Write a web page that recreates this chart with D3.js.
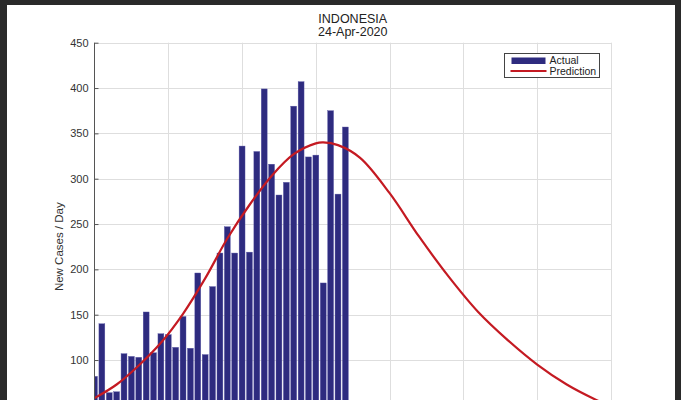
<!DOCTYPE html>
<html>
<head>
<meta charset="utf-8">
<script src="https://cdn.jsdelivr.net/npm/d3@7"></script>
<style>
  html, body { margin: 0; padding: 0; background: #2a2a2a; }
  svg { display: block; }
</style>
</head>
<body>
<script>
// ---- data ----
const titleLines = ["INDONESIA", "24-Apr-2020"];
const yLabel = "New Cases / Day";
const legendLabels = ["Actual", "Prediction"];
const days = [0,1,2,3,4,5,6,7,8,9,10,11,12,13,14,15,16,17,18,19,20,21,22,23,24,25,26,27,28,29,30,31,32,33,34];
const actual = [82,140,64,65,107,104,103,153,108,129,128,114,148,113,196,106,181,218,247,218,336,219,330,399,316,282,296,380,407,324,326,185,375,283,357];
const predDays = [0,3,6,9,12,15,18,21,24,27,30,31,33,36,40,44,48,52,56,60,64,68,70];
const predVals = [58,73,94,119,151,190,234,271,303,327,339,340,337,323,284,236,192,153,122,95,73,56,49];
const yTicks = [50,100,150,200,250,300,350,400,450];
const xGrid = [10,20,30,40,50,60,70];

(function () {
// ---- layout ----
const W = 681, H = 400;
const pL = 94.5, pR = 611, pT = 42.7, pB = 450.7;
const font = "'Liberation Sans', Arial, sans-serif";

const svg = d3.select("body").append("svg").attr("width", W).attr("height", H);

// photo frame
svg.append("rect").attr("x", 0).attr("y", 0).attr("width", W).attr("height", H).attr("fill", "#2a2a2a");
svg.append("rect").attr("x", 7).attr("y", 5).attr("width", 668).attr("height", H).attr("fill", "#ffffff");

const x = d3.scaleLinear().domain([0, 70]).range([pL, pR]);
const y = d3.scaleLinear().domain([0, 450]).range([pB, pT]);

// grid
const grid = svg.append("g").attr("stroke", "#dedede").attr("stroke-width", 1);
grid.selectAll("line.h").data(yTicks).join("line").attr("class", "h")
  .attr("x1", pL).attr("x2", pR)
  .attr("y1", d => Math.round(y(d)) + 0.5).attr("y2", d => Math.round(y(d)) + 0.5);
grid.selectAll("line.v").data(xGrid).join("line").attr("class", "v")
  .attr("x1", d => Math.round(x(d)) + 0.5).attr("x2", d => Math.round(x(d)) + 0.5)
  .attr("y1", pT).attr("y2", pB);

// clip
svg.append("clipPath").attr("id", "plotclip").append("rect")
  .attr("x", pL).attr("y", pT - 2).attr("width", pR - pL).attr("height", pB - pT + 2);

const plot = svg.append("g").attr("clip-path", "url(#plotclip)");

// bars
const barW = 0.8 * (x(1) - x(0));
plot.selectAll("rect.bar").data(actual).join("rect")
  .attr("class", "bar")
  .attr("x", (d, i) => x(days[i]) - barW / 2)
  .attr("width", barW)
  .attr("y", d => y(d))
  .attr("height", d => y(0) - y(d))
  .attr("fill", "#2e2b7f")
  .attr("stroke", "#5a57a6")
  .attr("stroke-width", 0.4);

// prediction curve
const pts = predDays.map((d, i) => [d, predVals[i]]);
const line = d3.line().x(d => x(d[0])).y(d => y(d[1])).curve(d3.curveCatmullRom.alpha(0.5));
plot.append("path").datum(pts)
  .attr("d", line)
  .attr("fill", "none")
  .attr("stroke", "#c41a22")
  .attr("stroke-width", 2.2);

// y axis
const yAxis = d3.axisLeft(y).tickValues(yTicks).tickSize(-4).tickPadding(6);
const ya = svg.append("g").attr("transform", `translate(${pL},0)`).call(yAxis);
ya.select(".domain").attr("stroke", "#555").attr("stroke-width", 1).attr("d", `M0,${pT}V${pB}`);
ya.selectAll(".tick line").attr("stroke", "#555");
ya.selectAll(".tick text").attr("fill", "#333")
  .style("font-family", font).style("font-size", "11px");

// y label
svg.append("text")
  .attr("transform", `translate(63,${(pT + pB) / 2}) rotate(-90)`)
  .attr("text-anchor", "middle")
  .attr("fill", "#333")
  .style("font-family", font)
  .style("font-size", "11.5px")
  .text(yLabel);

// title
svg.selectAll("text.title").data(titleLines).join("text")
  .attr("class", "title")
  .attr("x", (pL + pR) / 2)
  .attr("y", (d, i) => 23 + i * 13)
  .attr("text-anchor", "middle")
  .attr("fill", "#222")
  .style("font-family", font)
  .style("font-size", "12.5px")
  .text(d => d);

// legend
const lg = svg.append("g");
lg.append("rect").attr("x", 504.5).attr("y", 53.5).attr("width", 95).attr("height", 24)
  .attr("fill", "#ffffff").attr("stroke", "#444").attr("stroke-width", 1);
lg.append("rect").attr("x", 511.5).attr("y", 57.5).attr("width", 34).attr("height", 6.5)
  .attr("fill", "#2e2b7f");
lg.append("line").attr("x1", 510.5).attr("x2", 546.5).attr("y1", 71).attr("y2", 71)
  .attr("stroke", "#c41a22").attr("stroke-width", 2);
lg.selectAll("text").data(legendLabels).join("text")
  .attr("x", 549.5)
  .attr("y", (d, i) => 64 + i * 11.3)
  .attr("fill", "#222")
  .style("font-family", font)
  .style("font-size", "10.5px")
  .text(d => d);
})();
</script>
</body>
</html>
